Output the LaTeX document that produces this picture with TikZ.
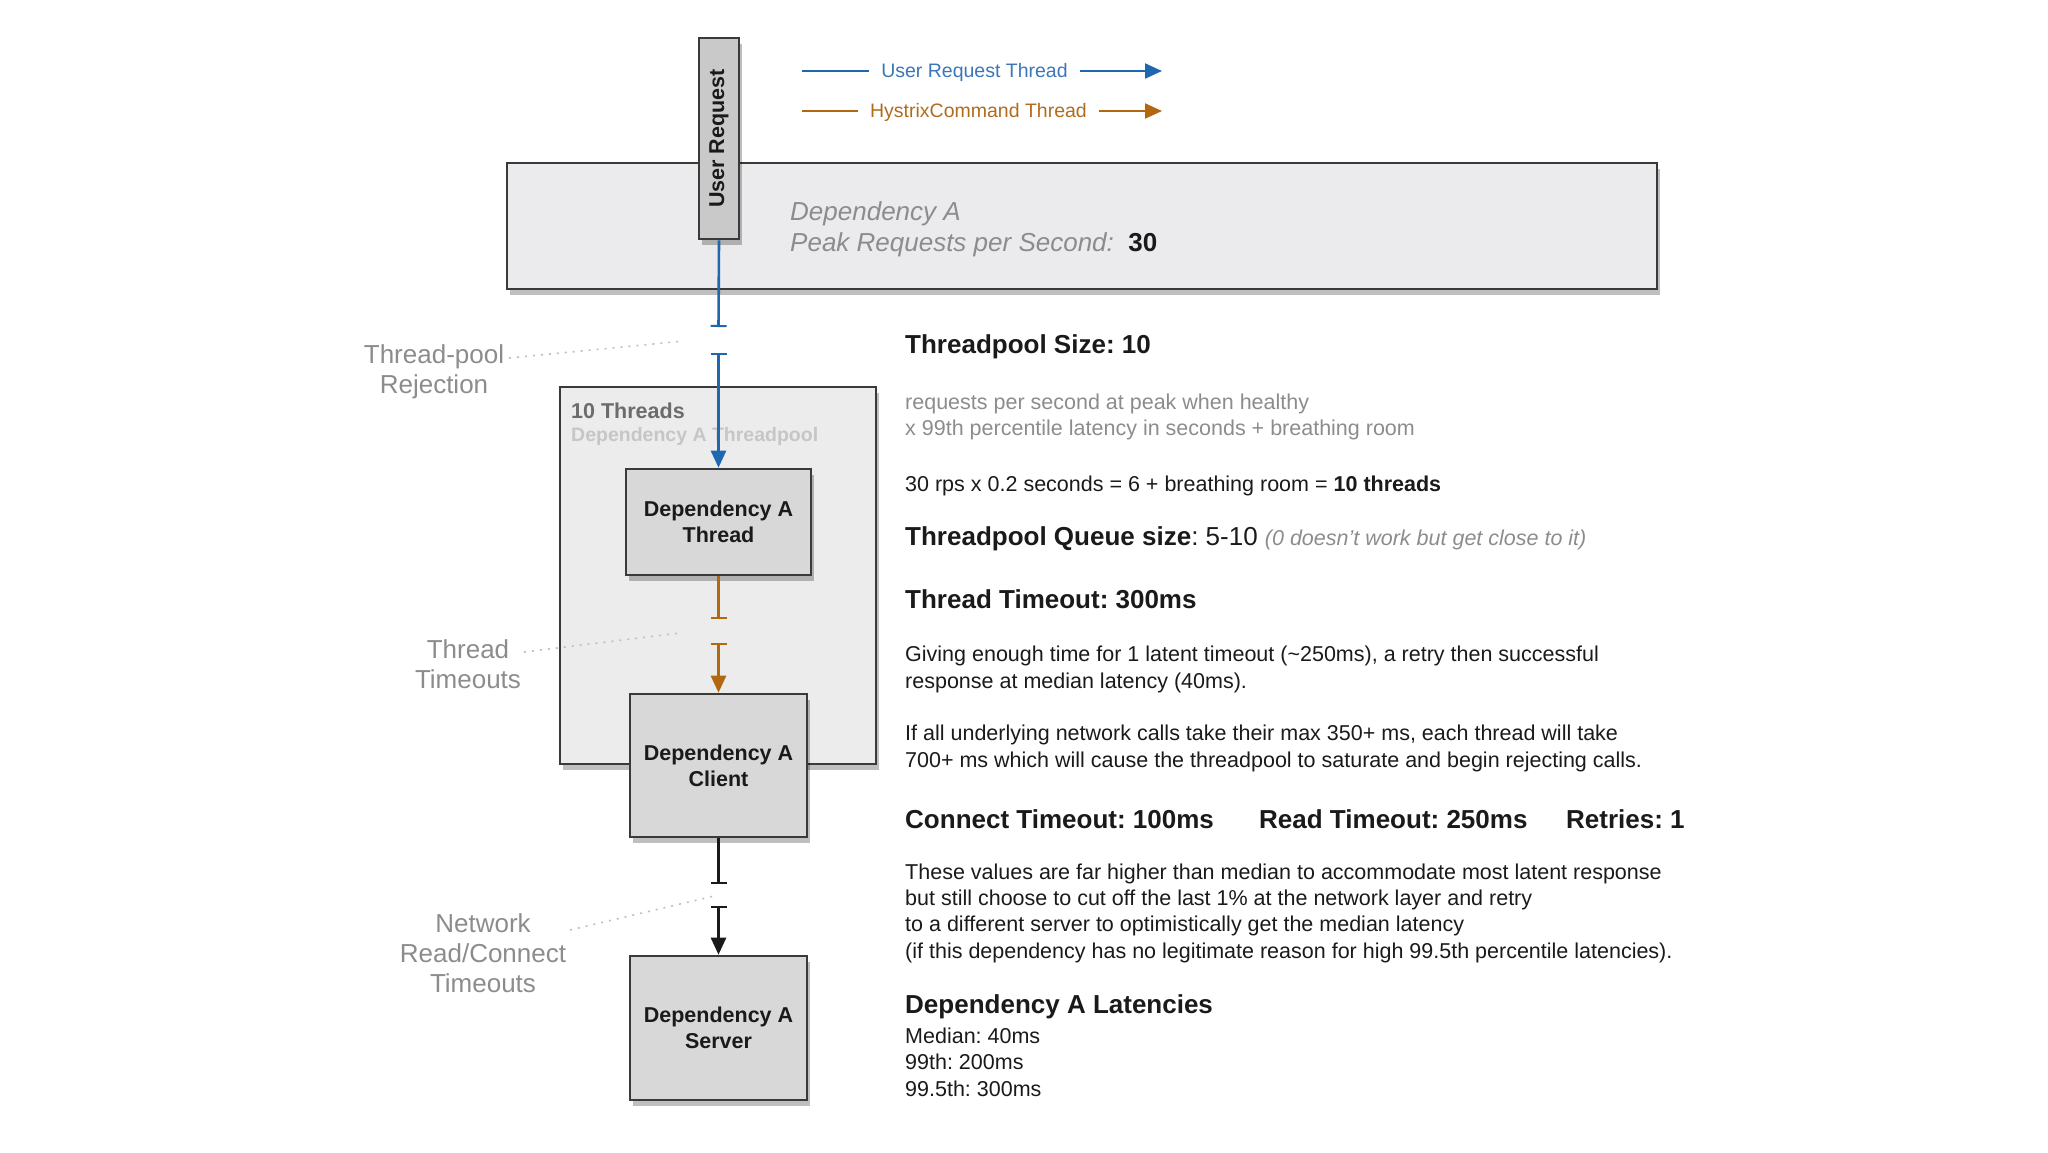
\documentclass[tikz,border=0pt]{standalone}
\usepackage{fontspec}
\setmainfont{Liberation Sans}
\usetikzlibrary{arrows.meta,shadows}
\definecolor{ublue}{HTML}{1F68B0}
\definecolor{uorange}{HTML}{B1680F}
\definecolor{lblue}{HTML}{3A76B8}
\definecolor{lorange}{HTML}{B06C1E}
\definecolor{edge}{HTML}{3A3A3A}
\definecolor{txt}{HTML}{1A1A1A}
\definecolor{gtxt}{HTML}{8C8C8C}
\definecolor{ltxt}{HTML}{C6C6C6}
\definecolor{bigfill}{HTML}{EBEBED}
\definecolor{poolfill}{HTML}{ECECEC}
\definecolor{boxfill}{HTML}{D8D8D8}
\definecolor{urfill}{HTML}{C9C9C9}
\frenchspacing
\begin{document}
\begin{tikzpicture}[x=1pt,y=-1pt,
  shadowed/.style={drop shadow={shadow xshift=3pt,shadow yshift=-6pt,opacity=0.25,fill=black}},
  panel/.style={draw=edge,line width=2.6pt,shadowed,inner sep=0pt},
  depbox/.style={panel,fill=boxfill,align=center,text=txt,font=\fontsize{21.5}{26}\selectfont\bfseries},
  plain/.style={inner sep=0pt,anchor=west,align=left,text=txt},
  body/.style={plain,font=\fontsize{21.5}{26.3}\selectfont},
  head/.style={plain,font=\fontsize{26}{30}\selectfont\bfseries},
  sidelabel/.style={inner sep=0pt,align=center,text=gtxt,font=\fontsize{26}{30}\selectfont},
  dots/.style={draw=gray!50,line width=1.6pt,dash pattern=on 2pt off 6pt},
  conn/.style={line width=2.6pt},
  tick/.style={conn,-{Bar[width=16pt,line width=2pt]}},
  arrowed/.style={conn,{Bar[width=16pt,line width=2pt]}-{Triangle[length=17pt,width=15pt]}},
  legline/.style={line width=2.2pt}
]
\useasboundingbox (0,0) rectangle (2048,1152);

% legend
\node[inner sep=0pt,text=lblue,font=\fontsize{19.5}{22}\selectfont] (lg1) at (974.5,72) {User Request Thread};
\node[inner sep=0pt,text=lorange,font=\fontsize{19.5}{22}\selectfont] (lg2) at (978.5,112) {HystrixCommand Thread};
\coordinate (lg1a) at (802,71);
\coordinate (lg1b) at (1162,71);
\coordinate (lg2a) at (802,111);
\coordinate (lg2b) at (1162,111);
\draw[legline,ublue] (lg1a) -- ([xshift=-12pt]lg1.west |- lg1a);
\draw[legline,ublue,-{Triangle[length=17pt,width=15pt]}] ([xshift=12pt]lg1.east |- lg1a) -- (lg1b);
\draw[legline,uorange] (lg2a) -- ([xshift=-12pt]lg2.west |- lg2a);
\draw[legline,uorange,-{Triangle[length=17pt,width=15pt]}] ([xshift=12pt]lg2.east |- lg2a) -- (lg2b);

% big dependency panel
\node[panel,fill=bigfill,minimum width=1150pt,minimum height=126pt] (big) at (1082,226) {};
\node[inner sep=0pt,anchor=west,align=left,text=gtxt,font=\fontsize{26}{31}\selectfont\itshape] (bigtxt) at (790,229)
  {Dependency A\\Peak Requests per Second:\ \ {\upshape\bfseries\color{txt}30}};

% threadpool panel
\node[panel,fill=poolfill,minimum width=316pt,minimum height=377pt] (pool) at (718,575.5) {};
\node[inner sep=0pt,anchor=west,text=gray!85!black,font=\fontsize{21.5}{26}\selectfont\bfseries] (pooltitle) at (571,411) {10 Threads};
\node[inner sep=0pt,anchor=west,text=ltxt,font=\fontsize{19.5}{24}\selectfont\bfseries] (poolsub) at (571,436) {Dependency A Threadpool};

% user request
\node[panel,fill=urfill,minimum width=40pt,minimum height=201pt,text=txt,font=\fontsize{21.5}{26}\selectfont\bfseries] (ureq) at (719,138.5) {\rotatebox{90}{User Request}};

% dependency boxes
\node[depbox,minimum width=185pt,minimum height=106pt] (thread) at (718.5,522) {Dependency A\\Thread};
\node[depbox,minimum width=177pt,minimum height=143pt] (client) at (718.5,765.5) {Dependency A\\Client};
\node[depbox,minimum width=177pt,minimum height=144pt] (server) at (718.5,1028) {Dependency A\\Server};

% connectors with timeout gaps
\coordinate (t1) at (718.5,327);
\coordinate (t2) at (718.5,353);
\coordinate (o1) at (718.5,619);
\coordinate (o2) at (718.5,643);
\coordinate (k1) at (718.5,884);
\coordinate (k2) at (718.5,906);
\draw[tick,ublue] (ureq.south) -- (t1);
\draw[arrowed,ublue] (t2) -- (thread.north);
\draw[tick,uorange] (thread.south) -- (o1);
\draw[arrowed,uorange] (o2) -- (client.north);
\draw[tick,txt] (client.south) -- (k1);
\draw[arrowed,txt] (k2) -- (server.north);

% side labels
\node[sidelabel] (lrej) at (434,372) {Thread-pool\\Rejection};
\node[sidelabel] (ltim) at (468,664) {Thread\\Timeouts};
\node[sidelabel] (lnet) at (483,953) {Network\\Read/Connect\\Timeouts};
\coordinate (d1a) at (509,358);
\coordinate (d1b) at (684,341);
\coordinate (d2a) at (524,652);
\coordinate (d2b) at (680,633);
\coordinate (d3a) at (570,930);
\coordinate (d3b) at (714,896);
\draw[dots] (d1a) -- (d1b);
\draw[dots] (d2a) -- (d2b);
\draw[dots] (d3a) -- (d3b);

% right column
\node[head] (h1) at (905,347) {Threadpool Size: 10};
\node[body,text=gtxt] (p1) at (905,417) {requests per second at peak when healthy\\x 99th percentile latency in seconds + breathing room};
\node[body] (p2) at (905,486) {30 rps x 0.2 seconds = 6 + breathing room = \textbf{10 threads}};
\node[head] (h2) at (905,538.5) {Threadpool Queue size{\mdseries: 5-10} {\mdseries\itshape\color{gtxt}\fontsize{21.5}{24}\selectfont (0 doesn't work but get close to it)}};
\node[head] (h3) at (905,599) {Thread Timeout: 300ms};
\node[body] (p3) at (905,669.5) {Giving enough time for 1 latent timeout (\textasciitilde 250ms), a retry then successful\\response at median latency (40ms).};
\node[body] (p4) at (905,748.5) {If all underlying network calls take their max 350+ ms, each thread will take\\700+ ms which will cause the threadpool to saturate and begin rejecting calls.};
\node[head] (h4) at (905,819) {Connect Timeout: 100ms};
\node[head] (h5) at (1259,819) {Read Timeout: 250ms};
\node[head] (h6) at (1566,819) {Retries: 1};
\node[body] (p5) at (905,913) {These values are far higher than median to accommodate most latent response\\but still choose to cut off the last 1\% at the network layer and retry\\to a different server to optimistically get the median latency\\(if this dependency has no legitimate reason for high 99.5th percentile latencies).};
\node[head] (h7) at (905,1006.5) {Dependency A Latencies};
\node[body] (p6) at (905,1062) {Median: 40ms\\99th: 200ms\\99.5th: 300ms};
\end{tikzpicture}
\end{document}
